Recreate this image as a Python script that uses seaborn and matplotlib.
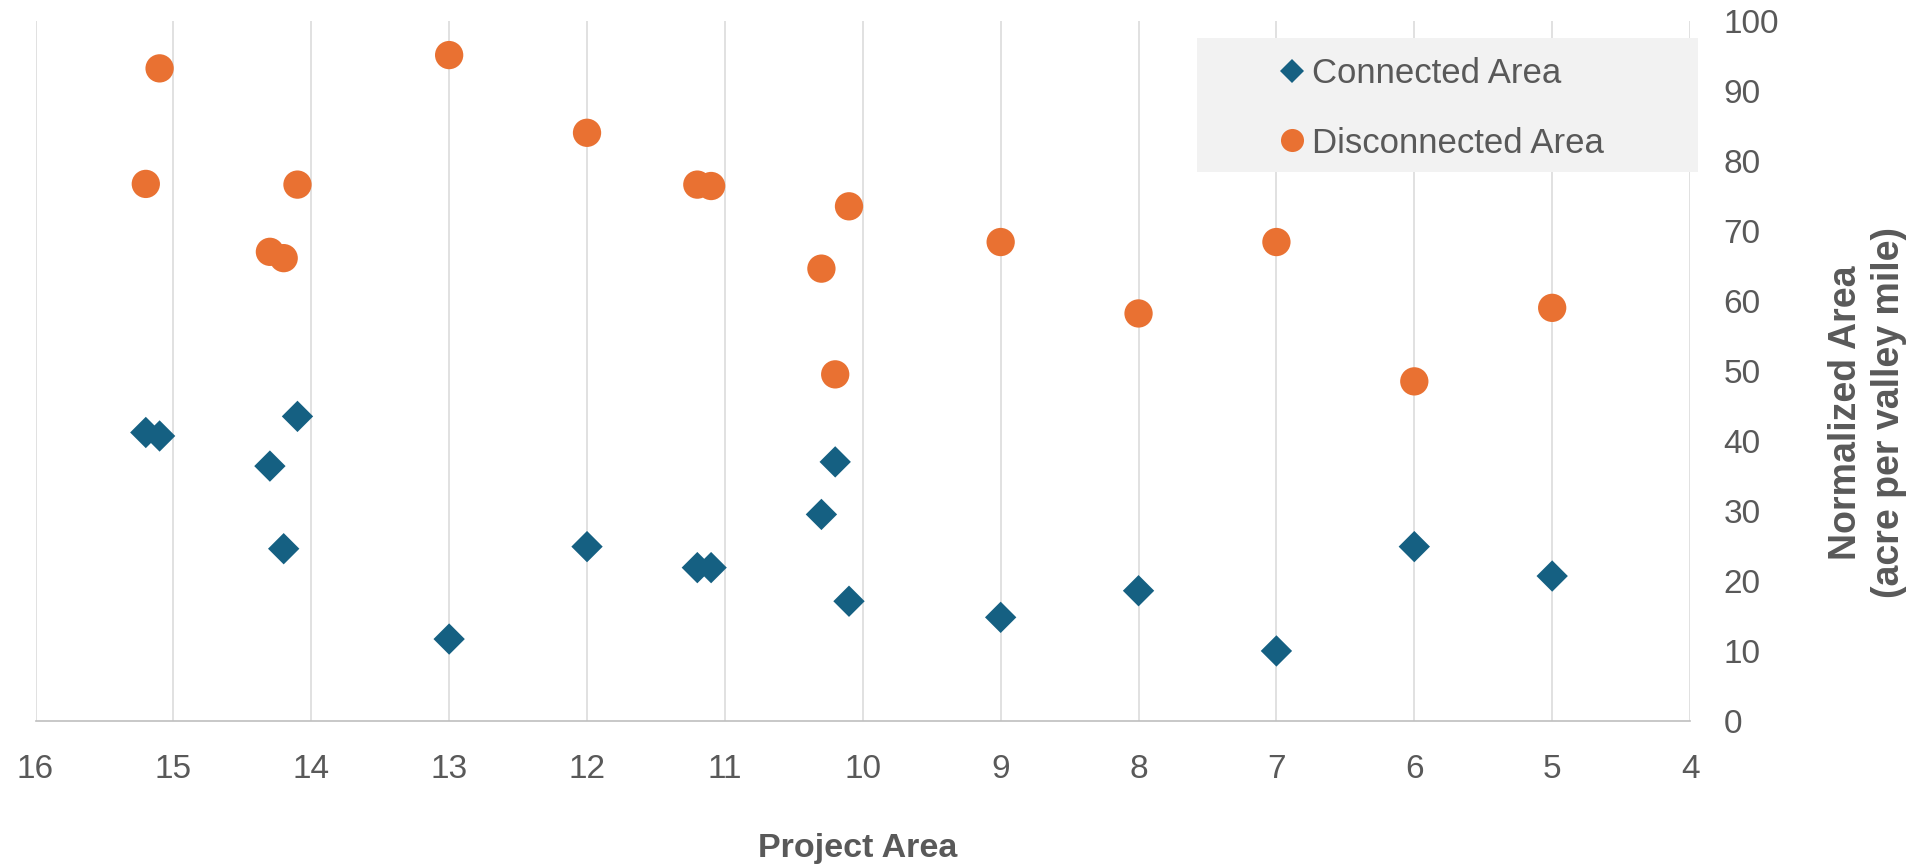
import numpy as np
import pandas as pd
import matplotlib
matplotlib.use("Agg")
import matplotlib.pyplot as plt
from matplotlib.lines import Line2D
from matplotlib.patches import Rectangle
import seaborn as sns

# Project areas (x) with readings for each series
project_area = [15.2, 15.1, 14.3, 14.2, 14.1, 13, 12, 11.2, 11.1, 10.3, 10.2, 10.1, 9, 8, 7, 6, 5]
connected_area = [41.2, 40.7, 36.4, 24.6, 43.5, 11.7, 24.9, 21.9, 21.9, 29.5, 37.0, 17.1, 14.8, 18.6, 10.0, 24.9, 20.7]
disconnected_area = [76.7, 93.2, 67.0, 66.1, 76.6, 95.1, 84.0, 76.6, 76.4, 64.6, 49.5, 73.5, 68.4, 58.2, 68.4, 48.5, 59.0]

series_names = ["Connected Area", "Disconnected Area"]
x_ticks = list(range(4, 17))
y_ticks = list(range(0, 101, 10))

BLUE = "#156082"
ORANGE = "#E97132"
TEXT = "#595959"
GRID = "#d9d9d9"

sns.set_theme(style="white")
plt.rcParams["font.family"] = ["Liberation Sans", "DejaVu Sans"]

df = pd.DataFrame({
    "project": project_area,
    "connected": connected_area,
    "disconnected": disconnected_area,
})

fig = plt.figure(figsize=(19.19, 8.65), dpi=100)
ax = fig.add_axes([0.0185, 0.1665, 0.8622, 0.8095])

sns.scatterplot(data=df, x="project", y="connected", marker="D", s=255,
                color=BLUE, edgecolor="none", linewidth=0, ax=ax, legend=False, zorder=3)
sns.scatterplot(data=df, x="project", y="disconnected", marker="o", s=415,
                color=ORANGE, edgecolor="none", linewidth=0, ax=ax, legend=False, zorder=3)

ax.set_xlim(16, 4)
ax.set_ylim(0, 100)
ax.set_xticks(x_ticks)
ax.set_yticks(y_ticks)

ax.grid(axis="x", color=GRID, linewidth=1.1)
ax.grid(axis="y", visible=False)
ax.set_axisbelow(True)

for side in ["left", "right", "top"]:
    ax.spines[side].set_visible(False)
ax.spines["bottom"].set_color("#bfbfbf")
ax.spines["bottom"].set_linewidth(1.2)

ax.yaxis.tick_right()
ax.tick_params(axis="both", length=0, labelsize=24, labelcolor=TEXT)
ax.tick_params(axis="x", pad=24)
ax.tick_params(axis="y", pad=24)

ax.set_xlabel("Project Area", fontsize=24.5, fontweight="bold", color=TEXT)
ax.xaxis.set_label_coords(0.497, -0.194)
ax.xaxis.label.set_verticalalignment("baseline")

ax.yaxis.set_label_position("right")
ax.set_ylabel("Normalized Area\n(acre per valley mile)", fontsize=27, fontweight="bold",
              color=TEXT, linespacing=1.25)
ax.yaxis.set_label_coords(1.107, 0.44)
ax.yaxis.label.set_verticalalignment("center")
ax.yaxis.label.set_horizontalalignment("center")

# Legend panel
ax.add_patch(Rectangle((0.702, 0.784), 0.3028, 0.191, transform=ax.transAxes,
                       facecolor="#f2f2f2", edgecolor="none", zorder=4, clip_on=False))
handles = [
    Line2D([], [], marker="D", linestyle="none", color=BLUE, markersize=11.9, markeredgewidth=0),
    Line2D([], [], marker="o", linestyle="none", color=ORANGE, markersize=16.6, markeredgewidth=0),
]
leg = ax.legend(handles, series_names, loc="center left", bbox_to_anchor=(0.7514, 0.875),
                frameon=False, fontsize=25, handlelength=0.77, handletextpad=0.19,
                labelspacing=1.05, borderpad=0, borderaxespad=0)
leg.set_zorder(5)
for t in leg.get_texts():
    t.set_color(TEXT)

fig.savefig("out.png", dpi=100)
